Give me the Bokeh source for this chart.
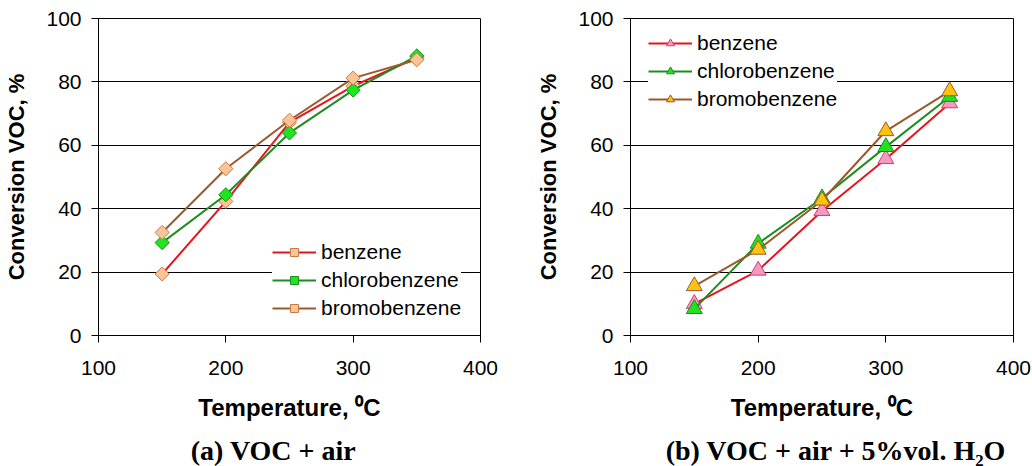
import numpy as np
from bokeh.plotting import figure
from bokeh.layouts import row, column
from bokeh.models import Range1d, FixedTicker, Legend, LegendItem
from bokeh.core.properties import value
from bokeh.embed import file_html
from bokeh.resources import INLINE

temperature = [150, 200, 250, 300, 350]
x_ticks = [100, 200, 300, 400]
y_ticks = [0, 20, 40, 60, 80, 100]
series_names = ["benzene", "chlorobenzene", "bromobenzene"]
captions = ["(a) VOC + air", "(b) VOC + air + 5%vol. H\u2082O"]

# (a) VOC + air
a_benzene = [19.4, 42.3, 67.2, 78.7, 87.6]
a_chlorobenzene = [29.3, 44.4, 63.9, 77.4, 88.2]
a_bromobenzene = [32.5, 52.6, 67.9, 81.2, 87.0]

# (b) VOC + air + 5%vol. H2O
b_benzene = [10.0, 20.5, 39.3, 55.7, 73.3]
b_chlorobenzene = [8.4, 29.0, 43.3, 59.5, 75.3]
b_bromobenzene = [15.6, 27.1, 42.6, 64.5, 77.1]

SANS = "Liberation Sans"
SERIF = "Liberation Serif"


def make_panel(width, height, bl, br, bt, bb):
    p = figure(width=width, height=height, output_backend="svg",
               toolbar_location=None, x_range=Range1d(100, 400),
               y_range=Range1d(0, 100),
               min_border_left=bl, min_border_right=br,
               min_border_top=bt, min_border_bottom=bb)
    p.xaxis.ticker = FixedTicker(ticks=x_ticks)
    p.yaxis.ticker = FixedTicker(ticks=y_ticks)
    for ax in (p.xaxis[0], p.yaxis[0]):
        ax.major_label_text_font = SANS
        ax.major_label_text_font_size = "21px"
        ax.major_label_text_color = "black"
        ax.axis_label_text_font = SANS
        ax.axis_label_text_font_style = "bold"
        ax.axis_label_text_color = "black"
        ax.axis_line_color = "black"
        ax.major_tick_line_color = "black"
        ax.major_tick_out = 7
        ax.major_tick_in = 0
        ax.minor_tick_line_color = None
    p.xaxis.axis_label_text_font_size = "24px"
    p.yaxis.axis_label_text_font_size = "22px"
    p.xaxis.axis_label = "Temperature, \u2070C"
    p.yaxis.axis_label = "Conversion VOC, %"
    p.xaxis.major_label_standoff = 18
    p.yaxis.major_label_standoff = 10
    p.xaxis.axis_label_standoff = 16
    p.yaxis.axis_label_standoff = 14
    p.xgrid.grid_line_color = None
    p.ygrid.grid_line_color = "black"
    p.ygrid.grid_line_width = 1
    p.outline_line_color = "black"
    p.outline_line_width = 1
    p.background_fill_color = "white"
    p.border_fill_color = "white"
    return p


def add_series(p, ys, name, line_color, marker, fill, edge, size, angle):
    r1 = p.line(temperature, ys, line_color=line_color, line_width=2)
    r2 = p.scatter(temperature, ys, marker=marker, size=size, angle=angle,
                   fill_color=fill, line_color=edge, line_width=1)
    return LegendItem(label=name, renderers=[r1, r2])


def style_legend(items, location):
    lg = Legend(items=items, location=location)
    lg.label_text_font = SANS
    lg.label_text_font_size = "21px"
    lg.label_text_color = "black"
    lg.glyph_width = 44
    lg.glyph_height = 20
    lg.label_standoff = 5
    lg.spacing = 4
    lg.padding = 8
    lg.margin = 0
    lg.border_line_color = None
    lg.background_fill_color = "white"
    lg.background_fill_alpha = 1
    return lg


pa = make_panel(516, 428, 98, 36, 17, 91)
items_a = [
    add_series(pa, a_benzene, series_names[0], "#e8141c", "square", "#f9c596", "#c87a45", 10, np.pi / 4),
    add_series(pa, a_chlorobenzene, series_names[1], "#1e8c1e", "square", "#1ee61e", "#1e8c1e", 10, np.pi / 4),
    add_series(pa, a_bromobenzene, series_names[2], "#9b5a2c", "square", "#f9c596", "#c87a45", 10, np.pi / 4),
]
pa.add_layout(style_legend(items_a, (174, 15)))

pb = make_panel(516, 428, 114, 19, 18, 93)
items_b = [
    add_series(pb, b_benzene, series_names[0], "#e8141c", "triangle", "#f49ac1", "#d0406e", 16, 0),
    add_series(pb, b_chlorobenzene, series_names[1], "#1e8c1e", "triangle", "#22e022", "#1e8c1e", 16, 0),
    add_series(pb, b_bromobenzene, series_names[2], "#9b5a2c", "triangle", "#ffc20e", "#9b5a2c", 16, 0),
]
pb.add_layout(style_legend(items_b, (18, 224)))

# caption strip below both panels (pixel-like coordinates, y measured upward)
cap = figure(width=1032, height=38, output_backend="svg", toolbar_location=None,
             x_range=Range1d(0, 1032), y_range=Range1d(0, 38),
             min_border=0, min_border_left=0, min_border_right=0,
             min_border_top=0, min_border_bottom=0)
cap.axis.visible = False
cap.grid.visible = False
cap.outline_line_color = None
cap.background_fill_color = "white"
cap.border_fill_color = "white"
cap.text(x=[273.0, 835.5], y=[16, 16], text=captions,
         text_font=value(SERIF), text_font_size="28px", text_font_style="bold",
         text_color="black", text_align="center", text_baseline="middle")

layout = column(row(pa, pb), cap)
open("out.html", "w").write(file_html(layout, INLINE))
